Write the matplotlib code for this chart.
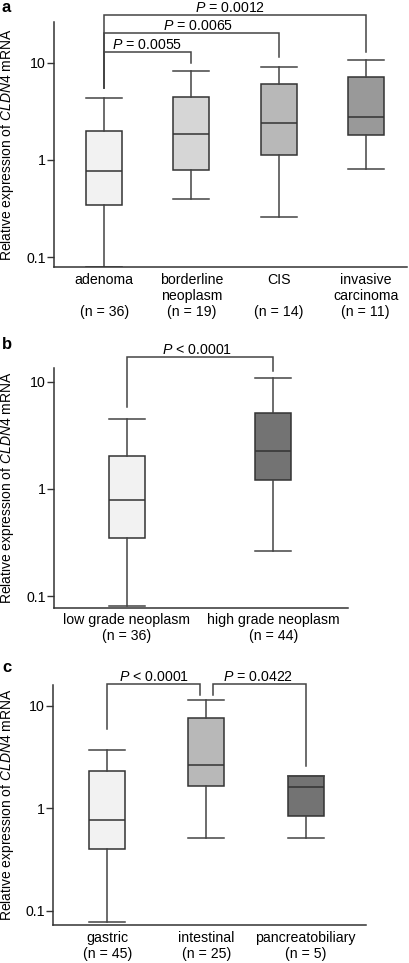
import matplotlib
matplotlib.use("Agg")
import matplotlib.pyplot as plt
from matplotlib.ticker import FixedLocator, NullLocator

plt.rcParams['font.family'] = ['Liberation Sans', 'DejaVu Sans']
plt.rcParams['mathtext.fontset'] = 'custom'
plt.rcParams['mathtext.it'] = 'Liberation Sans:italic'
plt.rcParams['mathtext.rm'] = 'Liberation Sans'

# ---------------- data ----------------
# panel a
a_labels = ["adenoma\n\n(n = 36)", "borderline\nneoplasm\n(n = 19)", "CIS\n\n(n = 14)", "invasive\ncarcinoma\n(n = 11)"]
a_lo = [0.079, 0.40, 0.258, 0.81]
a_q1 = [0.344, 0.78, 1.13, 1.81]
a_med = [0.776, 1.87, 2.39, 2.80]
a_q3 = [1.99, 4.46, 6.08, 7.17]
a_hi = [4.39, 8.2, 9.1, 10.6]
a_colors = ["#f2f2f2", "#d6d6d6", "#b8b8b8", "#999999"]
a_pvals = ["$\\it{P}$ = 0.0055", "$\\it{P}$ = 0.0065", "$\\it{P}$ = 0.0012"]

# panel b
b_labels = ["low grade neoplasm\n(n = 36)", "high grade neoplasm\n(n = 44)"]
b_lo = [0.081, 0.266]
b_q1 = [0.345, 1.21]
b_med = [0.79, 2.26]
b_q3 = [2.04, 5.07]
b_hi = [4.49, 10.7]
b_colors = ["#f2f2f2", "#737373"]
b_pvals = ["$\\it{P}$ < 0.0001"]

# panel c
c_labels = ["gastric\n(n = 45)", "intestinal\n(n = 25)", "pancreatobiliary\n(n = 5)"]
c_lo = [0.078, 0.517, 0.517]
c_q1 = [0.404, 1.64, 0.85]
c_med = [0.775, 2.65, 1.63]
c_q3 = [2.30, 7.69, 2.07]
c_hi = [3.69, 11.5, 2.07]
c_colors = ["#f2f2f2", "#b8b8b8", "#737373"]
c_pvals = ["$\\it{P}$ < 0.0001", "$\\it{P}$ = 0.0422"]

W, H = 409, 963
fig = plt.figure(figsize=(W / 100, H / 100), dpi=100)

EDGE = "#333333"
FS = 10.2
LABX = 16.5


def make_ax(left, right, top, bottom):
    return fig.add_axes([left / W, (H - bottom) / H, (right - left) / W, (bottom - top) / H])


def draw_panel(ax, labels, lo, q1, med, q3, hi, colors, xlim, ylim, width):
    stats = []
    for i in range(len(labels)):
        stats.append(dict(med=med[i], q1=q1[i], q3=q3[i], whislo=lo[i], whishi=hi[i], fliers=[]))
    pos = list(range(1, len(labels) + 1))
    res = ax.bxp(stats, positions=pos, widths=width, patch_artist=True, showfliers=False,
                 boxprops=dict(edgecolor=EDGE, linewidth=1.1),
                 medianprops=dict(color=EDGE, linewidth=1.1),
                 whiskerprops=dict(color="#444444", linewidth=1.1),
                 capprops=dict(color="#444444", linewidth=1.1),
                 capwidths=width)
    for p, c in zip(res['boxes'], colors):
        p.set_facecolor(c)
    ax.set_yscale('log')
    ax.set_xlim(*xlim)
    ax.set_ylim(*ylim)
    ax.yaxis.set_major_locator(FixedLocator([0.1, 1, 10]))
    ax.yaxis.set_minor_locator(NullLocator())
    ax.set_yticklabels(["0.1", "1", "10"])
    ax.set_xticks(pos)
    ax.set_xticklabels(labels, fontsize=FS, linespacing=1.2)
    ax.tick_params(axis='x', length=0, pad=4)
    ax.tick_params(axis='y', length=5, width=1, color="#333333", labelsize=FS, pad=1)
    for s in ['top', 'right']:
        ax.spines[s].set_visible(False)
    for s in ['left', 'bottom']:
        ax.spines[s].set_color("#333333")
        ax.spines[s].set_linewidth(1.1)
    ax.set_ylabel("Relative expression of $\\it{CLDN4}$ mRNA", fontsize=10)


def bracket(ax, x1, x2, y, y1, y2, text, tx):
    ax.plot([x1, x1, x2, x2], [y1, y, y, y2], color="#444444", lw=1.1, clip_on=False,
            solid_joinstyle='miter')
    ax.annotate(text, xy=(tx, y), xytext=(0, 3), textcoords='offset pixels',
                ha='center', va='baseline', fontsize=FS, annotation_clip=False)


# ---------------- panel a ----------------
axa = make_ax(54, 407, 21.7, 267)
draw_panel(axa, a_labels, a_lo, a_q1, a_med, a_q3, a_hi, a_colors,
           (0.422, 4.474), (0.079, 26.5), 0.413)
axa.yaxis.set_label_coords((LABX - 54) / 353, 0.5)
bracket(axa, 1, 2, 12.8, 5.49, 9.93, a_pvals[0], 1.49)
bracket(axa, 1, 3, 20.1, 5.49, 11.5, a_pvals[1], 2.07)
bracket(axa, 1, 4, 31.0, 5.49, 12.9, a_pvals[2], 2.44)

# ---------------- panel b ----------------
axb = make_ax(54.3, 347.7, 368.3, 607.7)
draw_panel(axb, b_labels, b_lo, b_q1, b_med, b_q3, b_hi, b_colors,
           (0.506, 2.507), (0.078, 13.3), 0.246)
axb.yaxis.set_label_coords((LABX - 54.3) / 293.4, 0.5)
bracket(axb, 1, 2, 16.9, 5.8, 12.6, b_pvals[0], 1.48)

# ---------------- panel c ----------------
axc = make_ax(53.3, 365.7, 685, 925)
draw_panel(axc, c_labels, c_lo, c_q1, c_med, c_q3, c_hi, c_colors,
           (0.456, 3.605), (0.0725, 16.0), 0.363)
axc.yaxis.set_label_coords((LABX - 53.3) / 312.4, 0.5)
bracket(axc, 1, 1.93, 16.4, 5.9, 12.9, c_pvals[0], 1.47)
bracket(axc, 2.07, 3, 16.4, 12.9, 2.6, c_pvals[1], 2.52)

# panel letters
fig.text(2 / W, 1 - 0 / H, "a", fontsize=12, fontweight='bold', va='top', ha='left')
fig.text(2 / W, 1 - 337 / H, "b", fontsize=12, fontweight='bold', va='top', ha='left')
fig.text(2 / W, 1 - 660 / H, "c", fontsize=12, fontweight='bold', va='top', ha='left')

fig.savefig("out.png", dpi=100, facecolor='white')
